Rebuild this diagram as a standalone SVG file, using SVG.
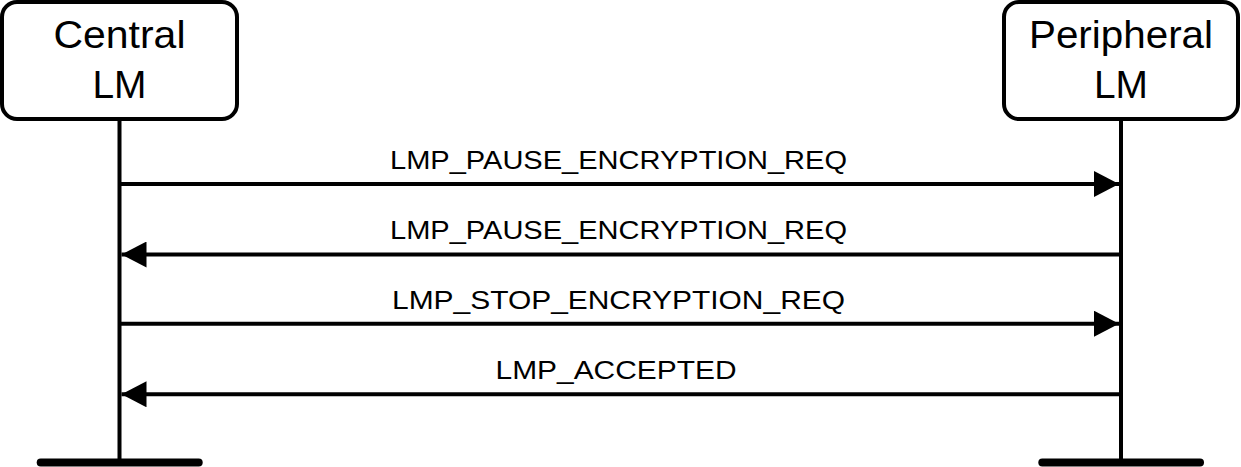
<svg xmlns="http://www.w3.org/2000/svg" width="1241" height="467" viewBox="0 0 1241 467">
  <style>
    .box { fill: #ffffff; stroke: #000000; stroke-width: 4; }
    .life { stroke: #000000; stroke-width: 4; fill: none; }
    .bar { stroke: #000000; stroke-width: 8; stroke-linecap: round; fill: none; }
    .msg { stroke: #000000; stroke-width: 4; fill: none; marker-end: url(#arrow); }
    .lbl { font-family: "Liberation Sans", Arial, Helvetica, sans-serif; fill: #000000; text-anchor: middle; }
    .node { font-size: 38.5px; }
    .mlbl { font-size: 25px; }
  </style>
  <defs>
    <marker id="arrow" markerUnits="userSpaceOnUse" markerWidth="26" markerHeight="26" refX="25" refY="13" orient="auto">
      <path d="M0,0 L25,13 L0,26 Z" fill="#000000"/>
    </marker>
  </defs>
  <rect width="1241" height="467" fill="#ffffff"/>
  <g id="central">
    <line class="life" x1="119.5" y1="119" x2="119.5" y2="461"/>
    <line class="bar" x1="40.7" y1="462.5" x2="198.7" y2="462.5"/>
    <rect class="box" x="2" y="2" width="235" height="117" rx="15" ry="15"/>
    <text class="lbl node" x="119.5" y="47.7" textLength="132" lengthAdjust="spacingAndGlyphs">Central</text>
    <text class="lbl node" x="119.5" y="97.5" textLength="54" lengthAdjust="spacingAndGlyphs">LM</text>
  </g>
  <g id="peripheral">
    <line class="life" x1="1121" y1="119" x2="1121" y2="461"/>
    <line class="bar" x1="1042.3" y1="462.5" x2="1200" y2="462.5"/>
    <rect class="box" x="1004" y="2" width="234" height="117" rx="15" ry="15"/>
    <text class="lbl node" x="1121" y="47.7" textLength="184" lengthAdjust="spacingAndGlyphs">Peripheral</text>
    <text class="lbl node" x="1121" y="97.5" textLength="54" lengthAdjust="spacingAndGlyphs">LM</text>
  </g>
  <g id="connectors">
    <g id="m1">
      <line class="msg" x1="121" y1="184" x2="1119" y2="184"/>
      <text class="lbl mlbl" x="618.5" y="168.5" textLength="457" lengthAdjust="spacingAndGlyphs">LMP_PAUSE_ENCRYPTION_REQ</text>
    </g>
    <g id="m2">
      <line class="msg" x1="1119" y1="254.5" x2="121.5" y2="254.5"/>
      <text class="lbl mlbl" x="618.5" y="239.3" textLength="457" lengthAdjust="spacingAndGlyphs">LMP_PAUSE_ENCRYPTION_REQ</text>
    </g>
    <g id="m3">
      <line class="msg" x1="121" y1="323.7" x2="1119" y2="323.7"/>
      <text class="lbl mlbl" x="618.5" y="308.5" textLength="453" lengthAdjust="spacingAndGlyphs">LMP_STOP_ENCRYPTION_REQ</text>
    </g>
    <g id="m4">
      <line class="msg" x1="1119" y1="394.3" x2="121.5" y2="394.3"/>
      <text class="lbl mlbl" x="616" y="379.3" textLength="241" lengthAdjust="spacingAndGlyphs">LMP_ACCEPTED</text>
    </g>
  </g>
</svg>
